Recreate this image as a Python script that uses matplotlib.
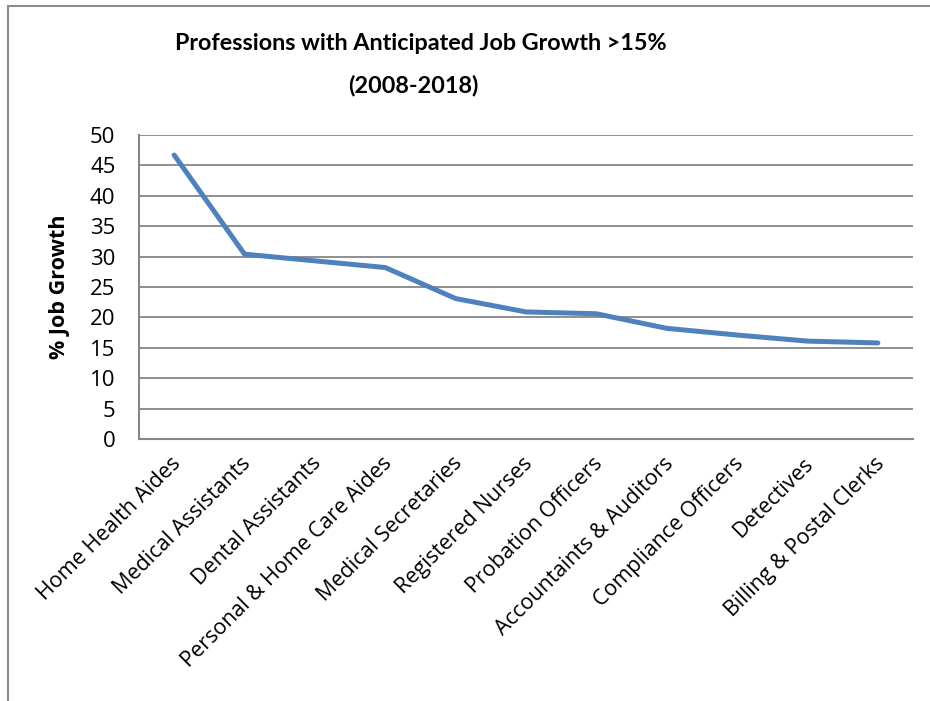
import matplotlib
matplotlib.use("Agg")
import matplotlib.pyplot as plt
from matplotlib.patches import Rectangle
from matplotlib.transforms import ScaledTranslation

plt.rcParams["font.family"] = ["Open Sans", "DejaVu Sans"]
body_font = ["Open Sans", "DejaVu Sans"]

professions = [
    "Home Health Aides",
    "Medical Assistants",
    "Dental Assistants",
    "Personal & Home Care Aides",
    "Medical Secretaries",
    "Registered Nurses",
    "Probation Officers",
    "Accountaints & Auditors",
    "Compliance Officers",
    "Detectives",
    "Billing & Postal Clerks",
]
growth = [46.7, 30.4, 29.3, 28.2, 23.1, 20.9, 20.6, 18.2, 17.1, 16.1, 15.8]
y_ticks = [0, 5, 10, 15, 20, 25, 30, 35, 40, 45, 50]
title_lines = ["Professions with Anticipated Job Growth >15%", "(2008-2018)"]

fig = plt.figure(figsize=(9.3, 7.01), dpi=100)
ax = fig.add_axes([139 / 930, 1 - 439 / 701, (913 - 139) / 930, (439 - 135) / 701])

x = list(range(len(professions)))
ax.plot(x, growth, color="#4F81BD", linewidth=3.6, solid_capstyle="round",
        solid_joinstyle="round", zorder=3)

ax.set_xlim(-0.5, len(professions) - 0.5)
ax.set_ylim(0, 50)
ax.set_yticks(y_ticks)
ax.set_xticks(x)
ax.set_xticklabels(professions, rotation=45, ha="right", rotation_mode="anchor",
                   fontsize=15.5, family=body_font)
ax.set_yticklabels([str(v) for v in y_ticks], fontsize=16, family=body_font)
ax.tick_params(axis="y", length=0, pad=17)
ax.tick_params(axis="x", length=0, pad=10)
shift = ScaledTranslation(-4 / 100, 0, fig.dpi_scale_trans)
for lbl in ax.get_xticklabels():
    lbl.set_transform(lbl.get_transform() + shift)

ax.grid(axis="y", color="#868686", linewidth=1.3)
ax.set_axisbelow(True)
for side in ["top", "right"]:
    ax.spines[side].set_visible(False)
for side in ["left", "bottom"]:
    ax.spines[side].set_color("#868686")
    ax.spines[side].set_linewidth(1.5)

ax.set_ylabel("% Job Growth", fontsize=15.5, fontweight="bold", family=body_font)
ax.yaxis.set_label_coords((70 - 139) / 774, 0.5)

fig.text(421 / 930, 1 - 43 / 701, title_lines[0], ha="center", va="center",
         fontsize=16.8, fontweight="bold", family=["Lato", "DejaVu Sans"])
fig.text(413 / 930, 1 - 86 / 701, title_lines[1], ha="center", va="center",
         fontsize=16.8, fontweight="bold", family=["Lato", "DejaVu Sans"])

# outer chart frame (right and bottom sides fall outside the image)
fig.patches.append(Rectangle((8 / 930, -0.1), 1.2, 1 - 6 / 701 + 0.1,
                             transform=fig.transFigure, fill=False,
                             edgecolor="#8c8c8c", linewidth=1.5))

fig.savefig("out.png", dpi=100)
